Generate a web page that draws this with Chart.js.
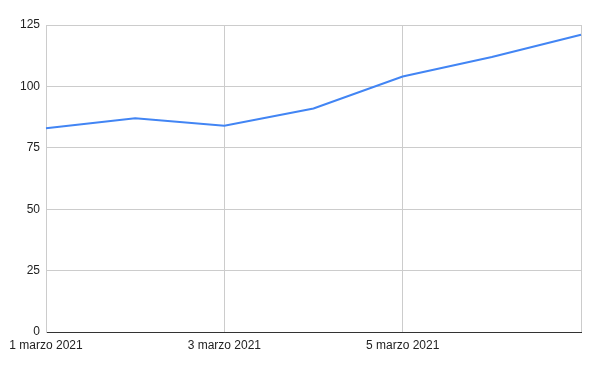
<!DOCTYPE html>
<html>
<head>
<meta charset="utf-8">
<script src="https://cdn.jsdelivr.net/npm/chart.js@4"></script>
<style>
  html, body { margin: 0; padding: 0; background: #fff; }
  #wrap { width: 600px; height: 371px; }
</style>
</head>
<body>
<div id="wrap"><canvas id="lineaChart"></canvas></div>
<script>
// dati
const giorni = ['1 marzo 2021', '2 marzo 2021', '3 marzo 2021', '4 marzo 2021', '5 marzo 2021', '6 marzo 2021', '7 marzo 2021'];
const valori = [83, 87, 84, 91, 104, 112, 121];
const yTicks = [0, 25, 50, 75, 100, 125];

const ctx = document.getElementById('lineaChart').getContext('2d');
const lineaChart = new Chart(ctx, {
    type: 'line',
    data: {
        labels: giorni,
        datasets: [{
            data: valori,
            borderColor: '#4285F4',
            borderWidth: 2,
            pointRadius: 0,
            tension: 0,
            fill: false
        }]
    },
    options: {
        responsive: true,
        maintainAspectRatio: false,
        animation: false,
        layout: { padding: { top: 25, right: 19, left: 0, bottom: 0 } },
        plugins: {
            legend: { display: false },
            tooltip: { enabled: false }
        },
        scales: {
            x: {
                offset: false,
                grid: { color: '#cccccc', drawTicks: false },
                border: { color: '#333333', width: 1 },
                afterFit: function(scale) { scale.height = 39; },
                ticks: {
                    autoSkip: false,
                    maxRotation: 0,
                    padding: 6,
                    color: '#222222',
                    font: { family: 'Arial, "Liberation Sans"', size: 12 },
                    callback: function(value, index) {
                        if (index % 2 !== 0) return null;
                        if (index === giorni.length - 1) return '';
                        return giorni[index];
                    }
                }
            },
            y: {
                min: yTicks[0],
                max: yTicks[yTicks.length - 1],
                grid: { color: '#cccccc', drawTicks: false },
                border: { color: '#cccccc' },
                afterFit: function(scale) { scale.width = 46; },
                ticks: {
                    stepSize: 25,
                    padding: 6,
                    color: '#222222',
                    font: { family: 'Arial, "Liberation Sans"', size: 12 }
                }
            }
        }
    }
});
</script>
</body>
</html>
